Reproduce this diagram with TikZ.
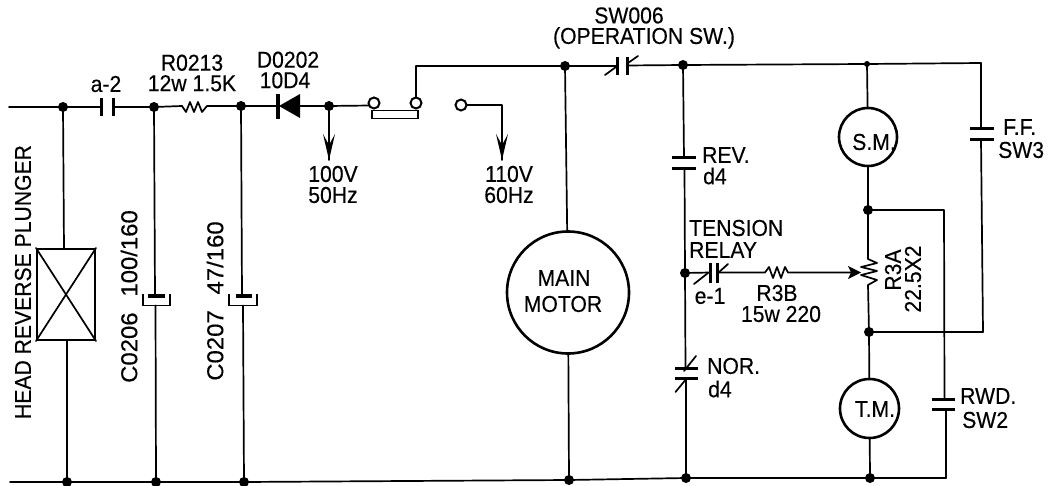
\documentclass[tikz,border=0pt]{standalone}
\usepackage{graphicx}
\usepackage{fontspec}
\setmainfont[FakeStretch=0.92,FakeBold=0.3]{Liberation Sans}
\tikzset{
  wire/.style={line width=1.7pt,line cap=round,line join=round},
  hv/.style={line width=3pt},
  dot/.style={circle,fill=black,inner sep=0pt,minimum size=10pt},
  smalldot/.style={circle,fill=black,inner sep=0pt,minimum size=6pt},
  term/.style={circle,draw,line width=2pt,fill=white,inner sep=0pt,minimum size=11pt},
  motor/.style={circle,draw,line width=2.6pt,inner sep=0pt},
  txt/.style={inner sep=0pt,align=center,font=\fontsize{23}{20.5}\selectfont},
  pt/.style={inner sep=0pt,minimum size=0pt},
}
\begin{document}
\begin{tikzpicture}[x=1pt,y=-1pt]
\useasboundingbox (0,0) rectangle (1054,486);
% junctions
\node[dot] (a1) at (63,107) {};
\node[dot] (a2) at (154,107) {};
\node[dot] (a3) at (241,106) {};
\node[dot] (a4) at (329,106) {};
\node[dot] (m1) at (565,66) {};
\node[dot] (c1) at (683,65) {};
\node[smalldot] (s1) at (867,64) {};
\node[dot] (c2) at (685,273) {};
\node[dot] (r1) at (868,210) {};
\node[dot] (r2) at (869,332) {};
\node[dot] (b1) at (67,482) {};
\node[dot] (b2) at (156,482) {};
\node[dot] (b3) at (244,482) {};
\node[dot] (b4) at (569,480) {};
\node[dot] (b5) at (686,478) {};
\node[dot] (b6) at (870,478) {};
\coordinate (w0) at (9,107);
\coordinate (w1) at (10,482);
\coordinate (corner1) at (416,66);
\coordinate (corner2) at (981,63);
\coordinate (corner3) at (983,332);
\coordinate (corner4) at (944,210);
\coordinate (corner5) at (946,478);
\coordinate (c3) at (502,105);
\coordinate (arr1) at (329,160);
\coordinate (arr2) at (502,160);
\coordinate (t1in) at (370,105.5);
\coordinate (t3out) at (461,105);
% motors
\node[motor,minimum size=122pt] (mm) at (568,292.5) {};
\node[motor,minimum size=58pt] (sm) at (868,137) {};
\node[motor,minimum size=59pt] (tm) at (869.5,408.5) {};
% plunger
\node[draw,line width=2pt,minimum width=58pt,minimum height=91pt,inner sep=0pt] (pl) at (66,294.5) {};
\draw[wire] (pl.north west) -- (pl.south east) (pl.north east) -- (pl.south west);
% main rails
\draw[wire] (w0) -- (a1.center) -- (101,107);
\draw[hv] (101,98) -- (101,116) (113,98) -- (113,116);
\draw[wire] (113,107) -- (a2.center) -- (182,106);
\draw[wire] (182,106) -- (186,112) -- (190,102) -- (194,112) -- (198,102) -- (202,112) -- (207,106) -- (a3.center) -- (278,106);
\node[pt] (d1) at (278,106) {};
\node[pt] (d2) at (300,106) {};
\fill (d1.center) ++(2,-12) -- ++(-4,0) -- ++(0,25) -- ++(4,0) -- cycle;
\fill (300,94) -- (279,106) -- (300,118) -- cycle;
\draw[wire] (d2.center) -- (a4.center) -- (t1in);
\draw[wire] (t3out) -- (c3) -- (arr2);
\draw[wire] (416,103) -- (corner1) -- (m1.center) -- (617,66);
% link and terminals
\draw[line width=1.8pt] (372,110.5) rectangle (418,118.5);
\node[term] (t1) at (374,103) {};
\node[term] (t2) at (416,103) {};
\node[term] (t3) at (461,105) {};
\draw[wire] (a4.center) -- (arr1);
\fill (323,134) -- (329,160) -- (335,134) -- (329,145) -- cycle;
\fill (496,134) -- (502,160) -- (508,134) -- (502,145) -- cycle;
% operation switch
\draw[hv] (617,57) -- (617,75) (627,57) -- (627,75);
\draw[wire] (605,75) -- (616,67) (628,63) -- (638,56);
\draw[wire] (627,65.5) -- (c1.center) -- (s1.center) -- (corner2) -- (981,129);
\draw[hv] (970,129) -- (994,129) (970,140) -- (994,140);
\draw[wire] (981,140) -- (corner3) -- (r2.center);
% left verticals
\draw[wire] (a1.center) -- (64,249);
\draw[wire] (67,340) -- (b1.center);
\draw[wire] (a2.center) -- (155,295);
\draw[line width=4pt] (148,295.5) -- (165,295.5);
\draw[line width=1.6pt] (143,294) -- (143,305.5) -- (170,305.5) -- (170,294);
\draw[wire] (155.5,305.5) -- (b2.center);
\draw[wire] (a3.center) -- (242,295);
\draw[line width=4pt] (236,295.5) -- (252,295.5);
\draw[line width=1.6pt] (229,294) -- (229,305.5) -- (257,305.5) -- (257,294);
\draw[wire] (243,305.5) -- (b3.center);
\draw[wire] (w1) -- (b1.center) -- (b2.center) -- (b3.center) -- (b4.center) -- (b5.center) -- (b6.center) -- (corner5);
% motor links
\draw[wire] (m1.center) -- (mm);
\draw[wire] (mm) -- (b4.center);
% col 684
\draw[wire] (c1.center) -- (684,158);
\draw[hv] (672,158) -- (696,158) (672,169) -- (696,169);
\draw[wire] (684.5,169) -- (c2.center) -- (685.5,368);
\draw[hv] (675,368) -- (698,368) (675,378) -- (698,378);
\draw[wire] (686,378) -- (b5.center);
\draw[wire] (684,371) -- (696,356) (687,378) -- (675.5,392);
% relay
\draw[wire] (c2.center) -- (710,272.5);
\draw[hv] (710,263) -- (710,283) (717,263) -- (717,283);
\draw[wire] (694,284) -- (708,273) (718,273) -- (728,264);
\draw[wire] (717,272.5) -- (765,272.5) -- (769,267) -- (773,278) -- (777,267) -- (781,278) -- (785,267) -- (788,272.5) -- (855,272.5);
\fill (861,272.5) -- (848,266) -- (851,272.5) -- (848,279) -- cycle;
% sm and tm column
\draw[wire] (s1.center) -- (sm);
\draw[wire] (sm) -- (r1.center) -- (868,259) -- (877,263) -- (861,267) -- (877,271) -- (861,275) -- (877,280) -- (868,285) -- (r2.center) -- (tm);
\draw[wire] (tm) -- (b6.center);
% rwd
\draw[wire] (r1.center) -- (corner4) -- (944.5,399);
\draw[hv] (932,399) -- (955,399) (932,409) -- (955,409);
\draw[wire] (946,409) -- (corner5);
% labels
\node[txt] (l1) at (106,84) {a-2};
\node[txt] (l2) at (192,73) {R0213\\12w\hspace{6pt}1.5K};
\node[txt] (l4) at (288,70) {D0202\\10D4\hspace*{6pt}};
\node[txt] (l6) at (333,174) {100V};
\node[txt] (l7) at (333,195) {50Hz};
\node[txt] (l8) at (509,174) {110V};
\node[txt] (l9) at (509,195) {60Hz};
\node[txt] (l10) at (644,28) {SW006\hspace*{30pt}\\(OPERATION SW.)};
\node[txt,anchor=west] (l12) at (702,155) {REV.};
\node[txt,anchor=west] (l13) at (703,176) {d4};
\node[txt,anchor=west] (l14) at (1003,127) {F.F.};
\node[txt,anchor=west] (l15) at (998,150) {SW3};
\node[txt,anchor=west] (l16) at (689,228) {TENSION};
\node[txt,anchor=west] (l17) at (689,250) {RELAY};
\node[txt] (l18) at (710,296) {e-1};
\node[txt] (l19) at (777,293) {R3B};
\node[txt] (l20) at (781,314) {15w 220};
\node[txt,anchor=west] (l21) at (707,366) {NOR.};
\node[txt,anchor=west] (l22) at (708,389) {d4};
\node[txt] (l23) at (874,142) {S.M.};
\node[txt] (l24) at (875,409) {T.M.};
\node[txt,anchor=west] (l25) at (960,396) {RWD.};
\node[txt,anchor=west] (l26) at (962,420) {SW2};
\node[txt] (l27) at (564,278) {MAIN};
\node[txt] (l28) at (563,304) {MOTOR};
\node[txt,rotate=90] (l29) at (893,270) {R3A};
\node[txt,rotate=90] (l30) at (913,279) {22.5X2};
\node[txt,rotate=90] (l31) at (23,282) {HEAD REVERSE PLUNGER};
\node[txt,rotate=90] (l32) at (129,296.5) {\scalebox{1.13}[1]{C0206\hspace{14pt}100/160}};
\node[txt,rotate=90] (l33) at (215,301) {\scalebox{1.13}[1]{C0207\hspace{14pt}47/160}};
\end{tikzpicture}
\end{document}
